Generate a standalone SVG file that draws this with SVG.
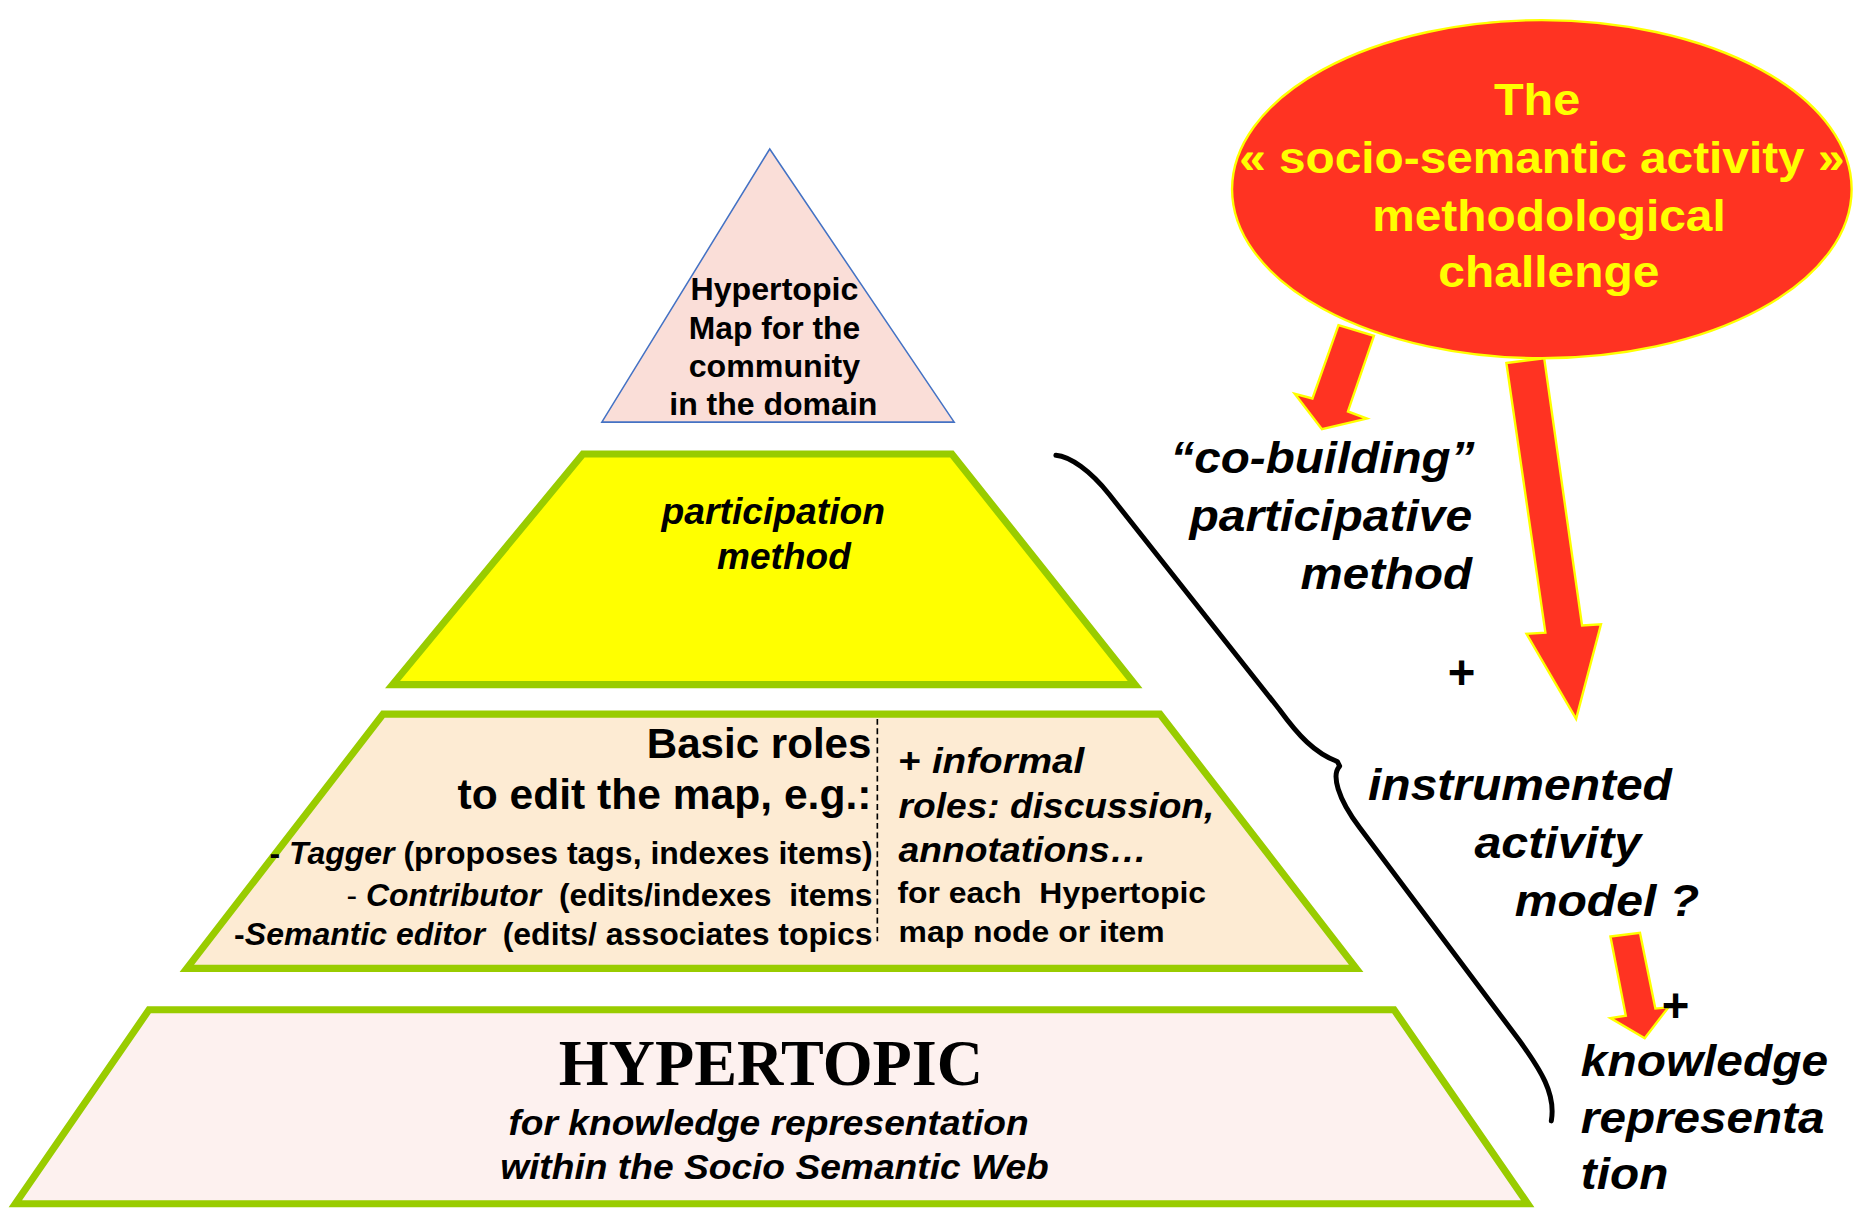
<svg xmlns="http://www.w3.org/2000/svg" width="1854" height="1211" viewBox="0 0 1854 1211">
<style>
.t{font-family:"Liberation Sans",Arial,sans-serif;font-weight:bold;fill:#000}
.i{font-style:italic}
.y{fill:#FFFF00}
.tier{stroke:#99CC00;stroke-width:6;stroke-linejoin:miter}
.arrow{fill:#FF3322;stroke:#FFFF00;stroke-width:2;stroke-linejoin:miter}
.pre{white-space:pre}
</style>
<rect width="1854" height="1211" fill="#FFFFFF"/>
<g transform="scale(1.18240)">
<g id="top-triangle">
<polygon points="651,126 807,357 509,357" fill="#FADED8" stroke="#4472C4" stroke-width="1.3"/>
<text class="t" font-size="26" text-anchor="middle"><tspan x="655" y="254" textLength="142" lengthAdjust="spacingAndGlyphs">Hypertopic</tspan><tspan x="655" y="287" textLength="145" lengthAdjust="spacingAndGlyphs">Map for the</tspan><tspan x="655" y="319" textLength="145" lengthAdjust="spacingAndGlyphs">community</tspan><tspan x="654" y="351" textLength="176" lengthAdjust="spacingAndGlyphs">in the domain</tspan></text>
</g>
<g id="participation-tier">
<polygon class="tier" points="493,384 805,384 960,579 332,579" fill="#FFFF00"/>
<text class="t i" font-size="31" text-anchor="middle"><tspan x="654" y="443" textLength="189" lengthAdjust="spacingAndGlyphs">participation</tspan><tspan x="663" y="481" textLength="113" lengthAdjust="spacingAndGlyphs">method</tspan></text>
</g>
<g id="roles-tier">
<polygon class="tier" points="324,604 981,604 1147,819 158,819" fill="#FDEBD3"/>
<line x1="742" y1="608" x2="742" y2="796" stroke="#000" stroke-width="1.4" stroke-dasharray="5,3"/>
<text class="t" font-size="36" text-anchor="end"><tspan x="737" y="641" textLength="190" lengthAdjust="spacingAndGlyphs">Basic roles</tspan><tspan x="737" y="684" textLength="350" lengthAdjust="spacingAndGlyphs">to edit the map, e.g.:</tspan></text>
<text class="t pre" font-size="26" text-anchor="end" x="738" y="731" textLength="510" lengthAdjust="spacingAndGlyphs">- <tspan class="i">Tagger</tspan> (proposes tags, indexes items)</text>
<text class="t pre" font-size="26" text-anchor="end" x="738" y="766" textLength="445" lengthAdjust="spacingAndGlyphs"><tspan font-weight="normal">- </tspan><tspan class="i">Contributor</tspan>  (edits/indexes  items</text>
<text class="t pre" font-size="26" text-anchor="end" x="738" y="799" textLength="540" lengthAdjust="spacingAndGlyphs">-<tspan class="i">Semantic editor</tspan>  (edits/ associates topics</text>
<text class="t" font-size="29"><tspan x="760" y="654" textLength="157" lengthAdjust="spacingAndGlyphs">+ <tspan class="i">informal</tspan></tspan></text>
<text class="t i" font-size="29"><tspan x="760" y="692" textLength="267" lengthAdjust="spacingAndGlyphs">roles: discussion,</tspan><tspan x="760" y="729" textLength="210" lengthAdjust="spacingAndGlyphs">annotations…</tspan></text>
<text class="t pre" font-size="25"><tspan x="759" y="764" textLength="261" lengthAdjust="spacingAndGlyphs">for each  Hypertopic</tspan><tspan x="760" y="797" textLength="225" lengthAdjust="spacingAndGlyphs">map node or item</tspan></text>
</g>
<g id="hypertopic-tier">
<polygon class="tier" points="126,854 1179,854 1292,1018 13,1018" fill="#FDF1EF"/>
<text font-family="'Liberation Serif','Times New Roman',serif" font-weight="bold" font-size="56" text-anchor="middle" x="652" y="918" textLength="359" lengthAdjust="spacingAndGlyphs">HYPERTOPIC</text>
<text class="t i" font-size="29" text-anchor="middle"><tspan x="650" y="960" textLength="440" lengthAdjust="spacingAndGlyphs">for knowledge representation</tspan><tspan x="655" y="997" textLength="464" lengthAdjust="spacingAndGlyphs">within the Socio Semantic Web</tspan></text>
</g>
<g id="challenge">
<ellipse cx="1304" cy="160" rx="262" ry="143" fill="#FF3322" stroke="#FFFF00" stroke-width="2"/>
<text class="t y" font-size="37" text-anchor="middle"><tspan x="1300" y="97" textLength="73" lengthAdjust="spacingAndGlyphs">The</tspan><tspan x="1304" y="146" textLength="512" lengthAdjust="spacingAndGlyphs">« socio-semantic activity »</tspan><tspan x="1310" y="195" textLength="299" lengthAdjust="spacingAndGlyphs">methodological</tspan><tspan x="1310" y="243" textLength="187" lengthAdjust="spacingAndGlyphs">challenge</tspan></text>
</g>
<g id="connectors">
<polygon class="arrow" points="1132,275 1162,284 1140,348 1156,354 1118,363 1095,333 1110,337"/>
<polygon class="arrow" points="1274,307 1306,303 1338,529 1354,528 1333,608 1291,536 1307,535"/>
<polygon class="arrow" points="1362,792 1387,789 1400,853 1411,852 1391,878 1362,861 1375,859"/>
<path d="M893,385 C905,386 922,398 938,418 L1082,600 C1098,622 1112,637 1131,644 L1133,648 C1126,655 1131,675 1150,700 L1285,880 C1303,905 1316,925 1312,948" fill="none" stroke="#000" stroke-width="4.2" stroke-linecap="round" stroke-linejoin="round"/>
</g>
<g id="cobuilding">
<text class="t i" font-size="37" text-anchor="end"><tspan x="1247" y="400" textLength="257" lengthAdjust="spacingAndGlyphs">“co-building”</tspan><tspan x="1245" y="449" textLength="239" lengthAdjust="spacingAndGlyphs">participative</tspan><tspan x="1245" y="498" textLength="145" lengthAdjust="spacingAndGlyphs">method</tspan></text>
</g>
<g id="plus1"><text class="t" font-size="40" text-anchor="middle" x="1236" y="583">+</text></g>
<g id="instrumented">
<text class="t i" font-size="38"><tspan x="1157" y="677" textLength="257" lengthAdjust="spacingAndGlyphs">instrumented</tspan><tspan x="1247" y="726" textLength="141" lengthAdjust="spacingAndGlyphs">activity</tspan><tspan x="1281" y="775" textLength="156" lengthAdjust="spacingAndGlyphs">model ?</tspan></text>
</g>
<g id="plus2"><text class="t" font-size="40" text-anchor="middle" x="1417" y="864">+</text></g>
<g id="knowledge">
<text class="t i" font-size="38"><tspan x="1337" y="910" textLength="209" lengthAdjust="spacingAndGlyphs">knowledge</tspan><tspan x="1337" y="958" textLength="206" lengthAdjust="spacingAndGlyphs">representa</tspan><tspan x="1337" y="1006" textLength="74" lengthAdjust="spacingAndGlyphs">tion</tspan></text>
</g>
</g>
</svg>
